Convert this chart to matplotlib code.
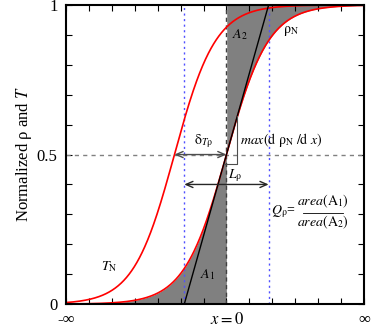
import numpy as np
import matplotlib
matplotlib.use("Agg")
import matplotlib.pyplot as plt

plt.rcParams["font.family"] = ["Liberation Serif", "DejaVu Serif"]
plt.rcParams["mathtext.fontset"] = "stix"

# sigmoid parameters (centre, width)
rho_center = 0.0
rho_width = 0.92
T_center = -2.27
T_width = 0.90

x_min, x_max = -7, 6
x_tick_pos = [-7, 0, 6]
x_tick_labels = ["-∞", "$x = 0$", "∞"]
y_tick_pos = [0, 0.5, 1]
y_tick_labels = ["0", "0.5", "1"]
L_arrow_y = 0.40
slope_box_y = 0.47
slope_box_x = 0.48

x = np.linspace(x_min, x_max, 800)
rho = 1.0 / (1.0 + np.exp(-(x - rho_center) / rho_width))
T = 1.0 / (1.0 + np.exp(-(x - T_center) / T_width))

slope = 1.0 / (4 * rho_width)
x_lo = rho_center - 0.5 / slope
x_hi = rho_center + 0.5 / slope

fig = plt.figure(figsize=(3.71, 3.32), dpi=100)
ax = fig.add_axes([0.178, 0.084, 0.803, 0.901])

# shaded areas A1 and A2
ax.fill_between(x, 0, rho, where=x <= rho_center, color="#808080", lw=0)
ax.fill_between(x, rho, 1, where=x >= rho_center, color="#808080", lw=0)

# guide lines
ax.axhline(0.5, color="0.5", ls=(0, (3, 3)), lw=1)
ax.plot([rho_center, rho_center], [0, 1], color="0.25", ls=(0, (3, 2.5)), lw=1)
for xv in (x_lo, x_hi):
    ax.plot([xv, xv], [0, 1], color="#5050ff", ls=(0, (1.5, 2.5)), lw=1)

# curves
ax.plot(x, T, color="red", lw=1.2)
ax.plot(x, rho, color="red", lw=1.2)
ax.plot([x_lo, x_hi], [0, 1], color="black", lw=1.0)

# slope marker
x_box0 = rho_center + (slope_box_y - 0.5) / slope
ax.plot([x_box0, slope_box_x, slope_box_x],
        [slope_box_y, slope_box_y, 0.5 + slope * slope_box_x],
        color="0.3", lw=0.8)

# arrows
ax.annotate("", xy=(rho_center, 0.5), xytext=(T_center, 0.5),
            arrowprops=dict(arrowstyle="<->,head_length=0.5,head_width=0.22",
                            color="0.3", lw=1, shrinkA=0, shrinkB=0))
ax.annotate("", xy=(x_hi, L_arrow_y), xytext=(x_lo, L_arrow_y),
            arrowprops=dict(arrowstyle="<->,head_length=0.5,head_width=0.22",
                            color="0.15", lw=1, shrinkA=0, shrinkB=0))

# labels
fs = 10
ax.text(0.57, 0.90, r"$A_2$", fontsize=fs, ha="center", va="center")
ax.text(2.8, 0.913, r"$\mathrm{\rho}_\mathrm{N}$", fontsize=fs, ha="center", va="center")
ax.text(-5.1, 0.124, r"$T_\mathrm{N}$", fontsize=fs, ha="center", va="center")
ax.text(-0.83, 0.097, r"$A_1$", fontsize=fs, ha="center", va="center")
ax.text(-1.0, 0.545, r"$\mathrm{\delta}_{T\mathrm{\rho}}$", fontsize=fs, ha="center", va="center")
ax.text(0.61, 0.548, r"$max(\mathrm{d}\ \mathrm{\rho}_\mathrm{N}\ /\mathrm{d}\ x)$",
        fontsize=fs, ha="left", va="center")
ax.text(0.08, 0.43, r"$L_\mathrm{\rho}$", fontsize=fs, ha="left", va="center")
ax.text(1.95, 0.31, r"$Q_\mathrm{\rho}$=", fontsize=fs, ha="left", va="center")
ax.text(4.2, 0.343, r"$area(\mathrm{A}_1)$", fontsize=fs, ha="center", va="center")
ax.text(4.2, 0.272, r"$area(\mathrm{A}_2)$", fontsize=fs, ha="center", va="center")
ax.plot([3.35, 5.1], [0.306, 0.306], color="black", lw=0.6)

ax.set_xlim(x_min, x_max)
ax.set_ylim(0, 1)
ax.set_xticks(x_tick_pos)
ax.set_xticklabels(x_tick_labels, fontsize=12)
ax.set_xticks(np.arange(x_min, x_max + 1), minor=True)
ax.set_yticks(y_tick_pos)
ax.set_yticklabels(y_tick_labels, fontsize=12)
ax.set_yticks(np.arange(0, 1.01, 0.1), minor=True)
ax.tick_params(which="both", direction="in", top=True, right=True, length=4, width=0.8)
ax.tick_params(axis="x", which="major", pad=6)
ax.tick_params(axis="y", which="major", pad=6)
for s in ax.spines.values():
    s.set_linewidth(1.5)

ax.set_ylabel("Normalized ρ and $T$", fontsize=12, labelpad=2)

fig.savefig("out.png", dpi=100)
